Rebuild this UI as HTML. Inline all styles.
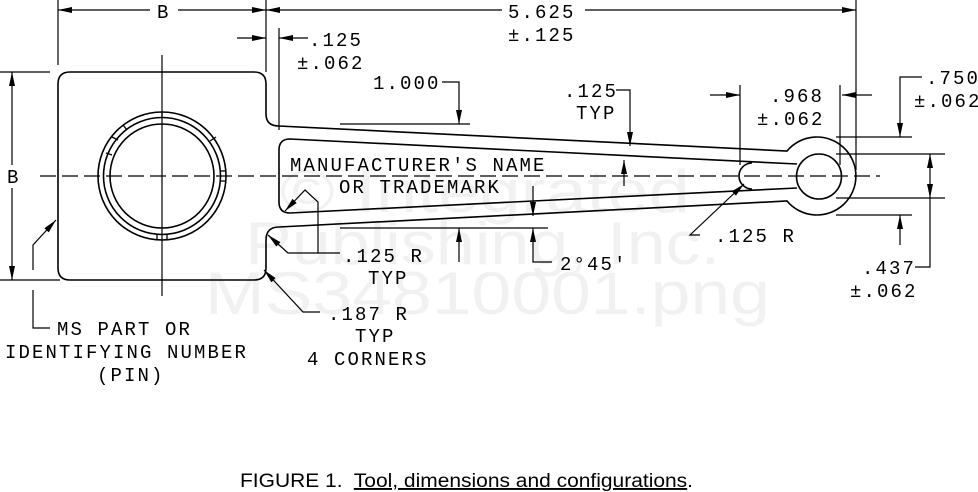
<!DOCTYPE html>
<html><head><meta charset="utf-8"><style>
html,body{margin:0;padding:0;background:#fff;}
svg{display:block;}
.t{font-family:"Liberation Mono",monospace;font-size:19px;letter-spacing:2.1px;fill:#000;}
.w{font-family:"Liberation Sans",sans-serif;font-size:60px;fill:#f1f1f1;}
</style></head><body>
<svg width="978" height="492" viewBox="0 0 978 492" xmlns="http://www.w3.org/2000/svg">
<defs>
<marker id="a" viewBox="0 0 14 6" refX="14" refY="3" markerWidth="14" markerHeight="6" orient="auto" markerUnits="userSpaceOnUse"><path d="M0,0 L14,3 L0,6 z" fill="#000"/></marker>
</defs>
<!-- watermark -->
<text class="w" x="280" y="212" textLength="410" lengthAdjust="spacingAndGlyphs">© Integrated</text>
<text class="w" x="245" y="264" textLength="475" lengthAdjust="spacingAndGlyphs">Publishing, Inc.</text>
<text class="w" x="205" y="314" textLength="565" lengthAdjust="spacingAndGlyphs">MS34810001.png</text>

<g fill="none" stroke="#000" stroke-width="1.6">
<path d="M70,72 L254,72 Q266,72 266,84 L266,114 Q266,126 279,126 L787,151 A39,39 0 1 1 787,201 L279,227 Q266,227 266,240 L266,268 Q266,280 254,280 L70,280 Q58,280 58,268 L58,84 Q58,72 70,72 Z"/>
<path d="M797,164 L290,139 Q279,139 279,150 L279,202 Q279,213 290,213 L797,188"/>
<path d="M752,163 A13,13 0 0 0 752,189"/>
<circle cx="819" cy="176.5" r="22.5"/>
<circle cx="162" cy="176" r="64"/>
<circle cx="162" cy="176" r="58.5"/>
<circle cx="162" cy="176" r="52"/>
</g>
<g stroke="#000" stroke-width="1.3">
<line x1="162" y1="112" x2="162" y2="118"/>
<line x1="157" y1="234" x2="157" y2="240"/>
<line x1="167" y1="234" x2="167" y2="240"/>
<line x1="220" y1="171" x2="226" y2="171"/>
<line x1="220" y1="181" x2="226" y2="181"/>
<line x1="106" y1="153" x2="112" y2="155"/>
<line x1="112" y1="137" x2="118" y2="140"/>
<line x1="123" y1="125" x2="127" y2="130"/>
<line x1="210" y1="141" x2="216" y2="137"/>
</g>

<g fill="none" stroke="#000" stroke-width="1.2">
<line x1="40" y1="176" x2="880" y2="176" stroke-dasharray="16,6"/>
<line x1="162" y1="55" x2="162" y2="296"/>
<line x1="58" y1="0" x2="58" y2="65"/>
<line x1="266" y1="0" x2="266" y2="72"/>
<line x1="856" y1="0" x2="856" y2="170"/>
<line x1="150" y1="10" x2="58" y2="10" marker-end="url(#a)"/>
<line x1="178" y1="10" x2="266" y2="10" marker-end="url(#a)"/>
<line x1="502" y1="10" x2="266" y2="10" marker-end="url(#a)"/>
<line x1="585" y1="10" x2="856" y2="10" marker-end="url(#a)"/>
<line x1="0" y1="72" x2="50" y2="72"/>
<line x1="0" y1="280" x2="60" y2="280"/>
<line x1="12" y1="165" x2="12" y2="72" marker-end="url(#a)"/>
<line x1="12" y1="188" x2="12" y2="280" marker-end="url(#a)"/>
<line x1="279" y1="28" x2="279" y2="130"/>
<line x1="237" y1="38" x2="266" y2="38" marker-end="url(#a)"/>
<line x1="308" y1="38" x2="279" y2="38" marker-end="url(#a)"/>
<polyline points="442,82 459,82 459,124" marker-end="url(#a)"/>
<line x1="340" y1="124" x2="470" y2="124"/>
<line x1="340" y1="228" x2="548" y2="228"/>
<line x1="459" y1="262" x2="459" y2="228" marker-end="url(#a)"/>
<line x1="533" y1="186" x2="533" y2="216" marker-end="url(#a)"/>
<polyline points="552,262 533,262 533,228" marker-end="url(#a)"/>
<polyline points="616,90 630,90 630,146" marker-end="url(#a)"/>
<line x1="624" y1="186" x2="624" y2="160" marker-end="url(#a)"/>
<line x1="740" y1="85" x2="740" y2="165"/>
<line x1="840" y1="85" x2="840" y2="165"/>
<line x1="710" y1="95" x2="740" y2="95" marker-end="url(#a)"/>
<line x1="872" y1="95" x2="842" y2="95" marker-end="url(#a)"/>
<line x1="836" y1="137" x2="912" y2="137"/>
<line x1="836" y1="215" x2="912" y2="215"/>
<line x1="836" y1="154" x2="945" y2="154"/>
<line x1="836" y1="198" x2="945" y2="198"/>
<polyline points="922,77 900,77 900,137" marker-end="url(#a)"/>
<line x1="900" y1="245" x2="900" y2="215" marker-end="url(#a)"/>
<line x1="930" y1="176" x2="930" y2="154" marker-end="url(#a)"/>
<polyline points="915,267 930,267 930,176 930,198" marker-end="url(#a)"/>
<polyline points="700,235 690,235 744,184" marker-end="url(#a)"/>
<polyline points="340,253 318,253 318,202 305,190 285,211" marker-end="url(#a)"/>
<polyline points="318,253 288,253 268,235" marker-end="url(#a)"/>
<polyline points="320,312 303,312 264,270" marker-end="url(#a)"/>
<polyline points="50,328 33,328 33,290"/>
<polyline points="33,270 33,245 56,220" marker-end="url(#a)"/>
</g>

<g class="t">
<text x="157" y="18">B</text>
<text x="7" y="183">B</text>
<text x="508" y="18">5.625</text>
<text x="508" y="41">±.125</text>
<text x="309" y="46">.125</text>
<text x="297" y="69">±.062</text>
<text x="373" y="89">1.000</text>
<text x="564" y="97">.125</text>
<text x="576" y="119">TYP</text>
<text x="770" y="102">.968</text>
<text x="757" y="125">±.062</text>
<text x="926" y="84">.750</text>
<text x="914" y="107">±.062</text>
<text x="862" y="274">.437</text>
<text x="850" y="297">±.062</text>
<text x="290" y="171">MANUFACTURER'S NAME</text>
<text x="339" y="193">OR TRADEMARK</text>
<text x="715" y="242">.125 R</text>
<text x="560" y="270">2°45'</text>
<text x="343" y="262">.125 R</text>
<text x="368" y="284">TYP</text>
<text x="328" y="320">.187 R</text>
<text x="355" y="342">TYP</text>
<text x="307" y="365">4 CORNERS</text>
<text x="57" y="335">MS PART OR</text>
<text x="5" y="358">IDENTIFYING NUMBER</text>
<text x="97" y="381">(PIN)</text>
</g>
<text x="240" y="487" style="font-family:'Liberation Sans',sans-serif;font-size:19px;" textLength="453" lengthAdjust="spacingAndGlyphs">FIGURE 1.&#160; <tspan text-decoration="underline">Tool, dimensions and configurations</tspan>.</text>
</svg>
</body></html>
